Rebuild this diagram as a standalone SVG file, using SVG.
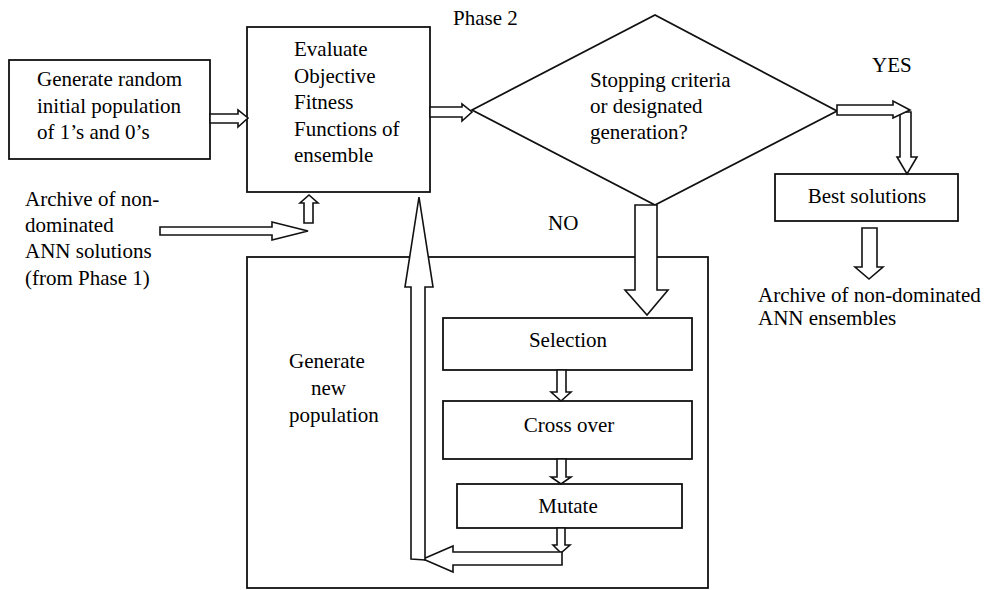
<svg xmlns="http://www.w3.org/2000/svg" width="986" height="590" viewBox="0 0 986 590" font-family="Liberation Serif, serif" font-size="21">
  <style>
    .c { text-anchor: middle; }
    .box { fill: #fff; stroke: #111; stroke-width: 1.8; }
    .blk { fill: #fff; stroke: #111; stroke-width: 1.6; stroke-linejoin: miter; }
  </style>
  <rect width="986" height="590" fill="#fff"/>

  <!-- enclosing block for the population generation steps -->
  <g id="n-genpop">
    <rect class="box" x="247" y="257" width="461" height="331"/>
    <text x="289" y="368">Generate</text>
    <text x="311" y="395">new</text>
    <text x="289" y="422">population</text>
  </g>

  <g id="n-init">
    <rect class="box" x="9" y="60" width="201" height="99"/>
    <text x="37" y="86">Generate random</text>
    <text x="37" y="113">initial population</text>
    <text x="37" y="139">of 1’s and 0’s</text>
  </g>

  <g id="n-eval">
    <rect class="box" x="247" y="27" width="183" height="165"/>
    <text x="294" y="56">Evaluate</text>
    <text x="294" y="83">Objective</text>
    <text x="294" y="109">Fitness</text>
    <text x="294" y="136">Functions of</text>
    <text x="294" y="162">ensemble</text>
  </g>

  <g id="n-archive-in">
    <text x="25" y="206">Archive of non-</text>
    <text x="25" y="232">dominated</text>
    <text x="25" y="258">ANN solutions</text>
    <text x="25" y="285">(from Phase 1)</text>
  </g>

  <g id="n-phase">
    <text x="453" y="25">Phase 2</text>
  </g>

  <g id="n-decision">
    <polygon class="box" points="472,110 655,15 837,111 655,205" stroke-width="1.5"/>
    <text x="590" y="87">Stopping criteria</text>
    <text x="590" y="113">or designated</text>
    <text x="590" y="139">generation?</text>
  </g>

  <g id="n-best">
    <rect class="box" x="775" y="174" width="183" height="47"/>
    <text class="c" x="867" y="203">Best solutions</text>
  </g>

  <g id="n-archive-out">
    <text x="758" y="302">Archive of non-dominated</text>
    <text x="758" y="325">ANN ensembles</text>
  </g>

  <g id="n-select">
    <rect class="box" x="443" y="318" width="249" height="52"/>
    <text class="c" x="568" y="347">Selection</text>
  </g>

  <g id="n-cross">
    <rect class="box" x="443" y="401" width="249" height="58"/>
    <text class="c" x="569" y="432">Cross over</text>
  </g>

  <g id="n-mutate">
    <rect class="box" x="457" y="484" width="225" height="44"/>
    <text class="c" x="568" y="513">Mutate</text>
  </g>

  <g id="n-labels">
    <text x="548" y="230">NO</text>
    <text x="872" y="72">YES</text>
  </g>

  <!-- hollow block arrows -->
  <g id="connectors">
    <polygon class="blk" points="210,114 238,114 238,110 248,118 238,127 238,123 210,123"/>
    <polygon class="blk" points="430,107 462,107 462,104 472,112 462,121 462,117 430,117"/>
    <polygon class="blk" points="160,227 272,227 272,222 308,231 272,240 272,235 160,235"/>
    <polygon class="blk" points="304,223 304,203 300,203 309,195 318,203 313,203 313,223"/>
    <polygon class="blk" points="635,205 635,290 625,290 647,315 668,290 657,290 657,205"/>
    <polygon class="blk" points="557,370 557,392 551,392 561,401 571,392 566,392 566,370"/>
    <polygon class="blk" points="557,459 557,477 551,477 561,484 571,477 566,477 566,459"/>
    <polygon class="blk" points="557,528 557,545 553,545 561,553 570,545 565,545 565,528"/>
    <polygon class="blk" points="562,552 453,552 453,546 423,559 453,572 453,565 562,565"/>
    <polygon class="blk" points="411,559 411,287 405,287 419,197 433,287 425,287 425,560"/>
    <polygon class="blk" points="900,112 900,157 897,157 907,174 917,157 911,157 911,112"/>
    <polygon class="blk" points="837,105 893,105 893,101 910,110 893,118 893,115 837,115"/>
    <polygon class="blk" points="862,228 862,267 855,267 869,279 883,267 877,267 877,228"/>
  </g>
</svg>
